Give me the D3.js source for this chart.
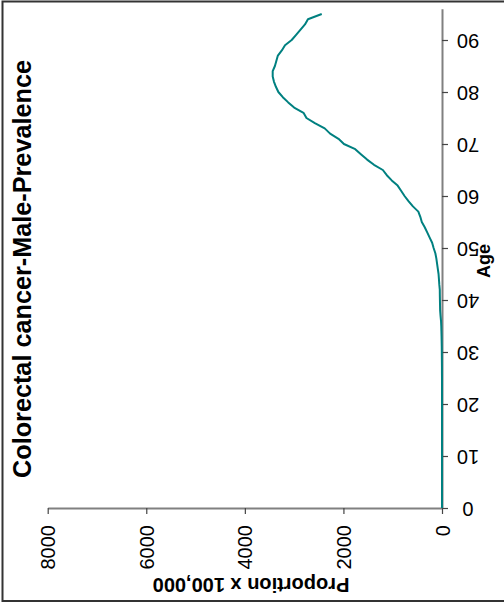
<!DOCTYPE html>
<html>
<head>
<meta charset="utf-8">
<script src="https://cdn.jsdelivr.net/npm/d3@7"></script>
<style>
  html, body { margin: 0; padding: 0; background: #fff; }
  svg { display: block; font-family: "Liberation Sans", Arial, sans-serif; }
</style>
</head>
<body>
<svg id="chart" width="504" height="606"></svg>
<script>
// ---- Data ----
const title = "Colorectal cancer-Male-Prevalence";
const ageLabel = "Age";
const valueLabel = "Proportion x 100,000";
const ageTicks = [0, 10, 20, 30, 40, 50, 60, 70, 80, 90];
const valueTicks = [0, 2000, 4000, 6000, 8000];
const ages = [
  0,1,2,3,4,5,6,7,8,9,10,11,12,13,14,15,16,17,18,19,
  20,21,22,23,24,25,26,27,28,29,30,31,32,33,34,35,36,37,38,39,
  40,41,42,43,44,45,46,47,48,49,50,51,52,53,54,55,56,57,58,59,
  60,61,62,63,64,65,66,67,68,69,70,71,72,73,74,75,76,77,78,79,
  80,81,82,83,84,85,86,87,88,89,90,91,92,93,94,95
];
const prevalence = [
  0,0,0,0,0,0,0,0,0,0,0,0,0,0,0,0,0,0,0,0,
  0,0,0,0,0,0,1,1,2,3,4,5,7,9,12,15,20,30,38,40,
  42,44,45,55,62,70,85,100,115,135,170,200,250,300,350,410,440,480,590,680,
  760,830,900,1020,1120,1200,1380,1520,1640,1760,1990,2100,2270,2380,2580,2750,2810,3000,3120,3230,
  3320,3370,3410,3435,3435,3390,3360,3330,3250,3185,3050,2960,2870,2780,2720,2440
];

// ---- Drawing ----
const svg = d3.select("#chart");

// outer frame
svg.append("rect")
  .attr("x", 2.5).attr("y", 1.5)
  .attr("width", 510).attr("height", 599.5)
  .attr("fill", "none").attr("stroke", "#333").attr("stroke-width", 2);

// Age runs vertically (0 at bottom), value runs horizontally (0 at right)
const yAge = d3.scaleLinear().domain([0, 96]).range([508, 8.8]);
const xVal = d3.scaleLinear().domain([0, 8000]).range([442, 47.7]);

const axisColor = "#808080";

// Age axis (right side)
const ageAxis = svg.append("g").attr("transform", "translate(442,0)")
  .call(d3.axisRight(yAge).tickValues(ageTicks).tickSize(6).tickSizeOuter(0).tickFormat(d3.format("d")));
ageAxis.select(".domain").attr("stroke", axisColor).attr("stroke-width", 2);
ageAxis.selectAll(".tick line").attr("stroke", "#444").attr("stroke-width", 1.2);
ageAxis.selectAll(".tick text")
  .attr("x", 0).attr("dy", null)
  .attr("font-size", 20).attr("fill", "#000")
  .attr("text-anchor", "middle")
  .attr("dominant-baseline", "central")
  .attr("transform", "translate(26,0) rotate(180)");

// Value axis (bottom)
const valAxis = svg.append("g").attr("transform", "translate(0,508)")
  .call(d3.axisBottom(xVal).tickValues(valueTicks).tickSize(6).tickSizeOuter(0).tickFormat(d3.format("d")));
valAxis.select(".domain").attr("stroke", axisColor).attr("stroke-width", 2);
valAxis.selectAll(".tick line").attr("stroke", "#444").attr("stroke-width", 1.2);
valAxis.selectAll(".tick text")
  .attr("y", 0).attr("dy", null)
  .attr("font-size", 20).attr("fill", "#000")
  .attr("text-anchor", "end")
  .attr("dominant-baseline", "central")
  .attr("transform", "translate(0,17) rotate(-90)");

// data line
const line = d3.line()
  .x((d, i) => xVal(prevalence[i]))
  .y((d, i) => yAge(ages[i]));
svg.append("path")
  .datum(ages)
  .attr("d", line)
  .attr("fill", "none")
  .attr("stroke", "#008080")
  .attr("stroke-width", 2)
  .attr("stroke-linejoin", "round");

// title (rotated, reads bottom to top)
svg.append("text")
  .attr("transform", "translate(31,478) rotate(-90)")
  .attr("text-anchor", "start")
  .attr("font-size", 25).attr("font-weight", "bold").attr("fill", "#000")
  .attr("textLength", 418).attr("lengthAdjust", "spacingAndGlyphs")
  .text(title);

// Age label
svg.append("text")
  .attr("transform", "translate(490,278) rotate(-90)")
  .attr("text-anchor", "start")
  .attr("font-size", 18).attr("font-weight", "bold").attr("fill", "#000")
  .text(ageLabel);

// value label (upside down)
svg.append("text")
  .attr("transform", "translate(251,578) rotate(180)")
  .attr("text-anchor", "middle")
  .attr("font-size", 20).attr("font-weight", "bold").attr("fill", "#000")
  .text(valueLabel);
</script>
</body>
</html>
